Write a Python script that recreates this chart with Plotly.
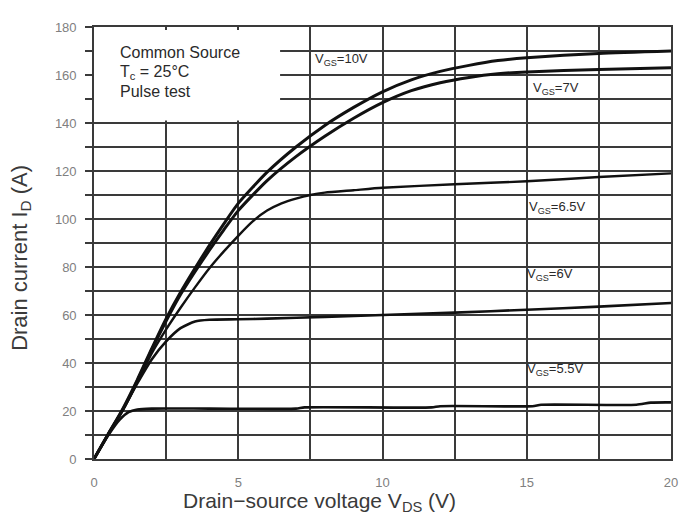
import plotly.graph_objects as go

# Drain-source voltage (V) and drain current (A) per gate voltage curve
vds_10 = [0, 0.5, 1, 1.5, 2, 2.5, 3, 3.5, 4, 4.5, 5, 6, 7, 8, 9, 10, 11, 12, 13, 14, 15, 17.5, 20]
id_10 = [0, 10.5, 21, 33, 46, 58.5, 69.5, 79.5, 89, 98, 106.5, 119.5, 130, 139, 146.5, 153, 158, 161.5, 164, 166, 167.2, 169, 170]

vds_7 = [0, 0.5, 1, 1.5, 2, 2.5, 3, 3.5, 4, 4.5, 5, 6, 7, 8, 9, 10, 11, 12, 13, 14, 15, 17.5, 20]
id_7 = [0, 10.5, 20.5, 32.5, 45.5, 57.5, 68.5, 78, 87, 95.5, 103.5, 116, 126, 134.5, 142, 148.5, 153.5, 156.8, 159, 160.5, 161.3, 162.3, 163]

vds_65 = [0, 0.5, 1, 1.5, 2, 2.5, 3, 3.5, 4, 4.5, 5, 5.5, 6, 6.5, 7, 7.5, 8, 9, 10, 12.5, 15, 17.5, 20]
id_65 = [0, 10.5, 20.5, 32, 44, 54, 63, 71.5, 79.5, 86.5, 93, 99, 103.5, 106.5, 108.5, 110, 111, 112, 113, 114.5, 115.7, 117.5, 119]

vds_6 = [0, 0.5, 1, 1.5, 2, 2.5, 3, 3.5, 4, 5, 6, 8, 10, 12.5, 15, 17.5, 20]
id_6 = [0, 10.5, 20.5, 31.5, 41.5, 49, 54.5, 57.3, 58, 58.2, 58.5, 59.2, 60, 61, 62.2, 63.5, 65]

vds_55 = [0, 0.5, 0.9, 1.2, 1.5, 2, 4, 7, 7.3, 11.7, 12, 15.2, 15.5, 18.8, 19.3, 20]
id_55 = [0, 10, 16.5, 19.5, 20.6, 21, 21, 21, 21.5, 21.5, 22, 22, 22.6, 22.6, 23.5, 23.6]

curve_names = ["V<sub>GS</sub>=10V", "V<sub>GS</sub>=7V", "V<sub>GS</sub>=6.5V",
               "V<sub>GS</sub>=6V", "V<sub>GS</sub>=5.5V"]
label_x = [7.6, 15.15, 15.0, 14.95, 14.95]
label_y = [166.5, 154.5, 104.7, 76.8, 37.2]

y_ticks = [0, 20, 40, 60, 80, 100, 120, 140, 160, 180]
x_ticks = [0, 5, 10, 15, 20]
info_lines = ["Common Source", "T<sub>c</sub> = 25°C", "Pulse test"]
info_y = [169.3, 161.0, 153.0]

fig = go.Figure()
series = [(vds_10, id_10, 3), (vds_7, id_7, 3), (vds_65, id_65, 2.4),
          (vds_6, id_6, 2.6), (vds_55, id_55, 2.6)]
for (xs, ys, w), nm in zip(series, curve_names):
    fig.add_trace(go.Scatter(x=xs, y=ys, mode="lines", name=nm,
                             line=dict(color="#111111", width=w, shape="spline", smoothing=0.6),
                             showlegend=False, hoverinfo="skip"))

grid_col = "#3a3a3a"
fig.update_xaxes(range=[0, 20], tickvals=x_ticks, ticktext=[str(v) for v in x_ticks],
                 showgrid=True, gridcolor=grid_col, gridwidth=1.6,
                 minor=dict(dtick=2.5, tick0=0, showgrid=True, gridcolor=grid_col, gridwidth=1.6),
                 showline=True, linecolor=grid_col, linewidth=1.6, mirror=True,
                 zeroline=False, ticks="", ticklabelstandoff=11,
                 tickfont=dict(family="Arial, Liberation Sans", size=13, color="#808080"))
fig.update_yaxes(range=[0, 180], tickvals=y_ticks, ticktext=[str(v) for v in y_ticks],
                 showgrid=True, gridcolor=grid_col, gridwidth=1.6,
                 minor=dict(dtick=10, tick0=0, showgrid=True, gridcolor=grid_col, gridwidth=1.6,
                            ticks="outside", ticklen=7, tickcolor=grid_col, tickwidth=1.6),
                 showline=True, linecolor=grid_col, linewidth=1.6, mirror=True,
                 zeroline=False, ticks="outside", ticklen=7, tickcolor=grid_col, tickwidth=1.6,
                 ticklabelstandoff=6,
                 tickfont=dict(family="Arial, Liberation Sans", size=13, color="#808080"))

# white info box covering the grid in the upper-left corner
fig.add_shape(type="rect", xref="x", yref="y", x0=-0.03, x1=6.45, y0=141, y1=178.7,
              fillcolor="white", line=dict(width=0), layer="above")

for t, yy in zip(info_lines, info_y):
    fig.add_annotation(x=0.82, y=yy, xref="x", yref="y", text=t, showarrow=False,
                       xanchor="left", yanchor="middle",
                       font=dict(family="Arial, Liberation Sans", size=16, color="#2a2a2a"))

for t, xx, yy in zip(curve_names, label_x, label_y):
    fig.add_annotation(x=xx, y=yy, xref="x", yref="y", text=t, showarrow=False,
                       xanchor="left", yanchor="middle",
                       font=dict(family="Arial, Liberation Sans", size=13, color="#2a2a2a"))

fig.add_annotation(x=7.8, y=-0.1, xref="x", yref="paper",
                   text="Drain\u2212source voltage V<sub>DS</sub> (V)", showarrow=False,
                   xanchor="center", yanchor="middle",
                   font=dict(family="Arial, Liberation Sans", size=21, color="#3a3a3a"))
fig.add_annotation(x=-0.127, y=0.465, xref="paper", yref="paper",
                   text="Drain current I<sub>D</sub> (A)", showarrow=False, textangle=-90,
                   xanchor="center", yanchor="middle",
                   font=dict(family="Arial, Liberation Sans", size=22, color="#3a3a3a"))

fig.update_layout(width=687, height=515, margin=dict(l=94, r=9, t=27, b=56),
                  plot_bgcolor="white", paper_bgcolor="white")

fig.write_html("out.html")
